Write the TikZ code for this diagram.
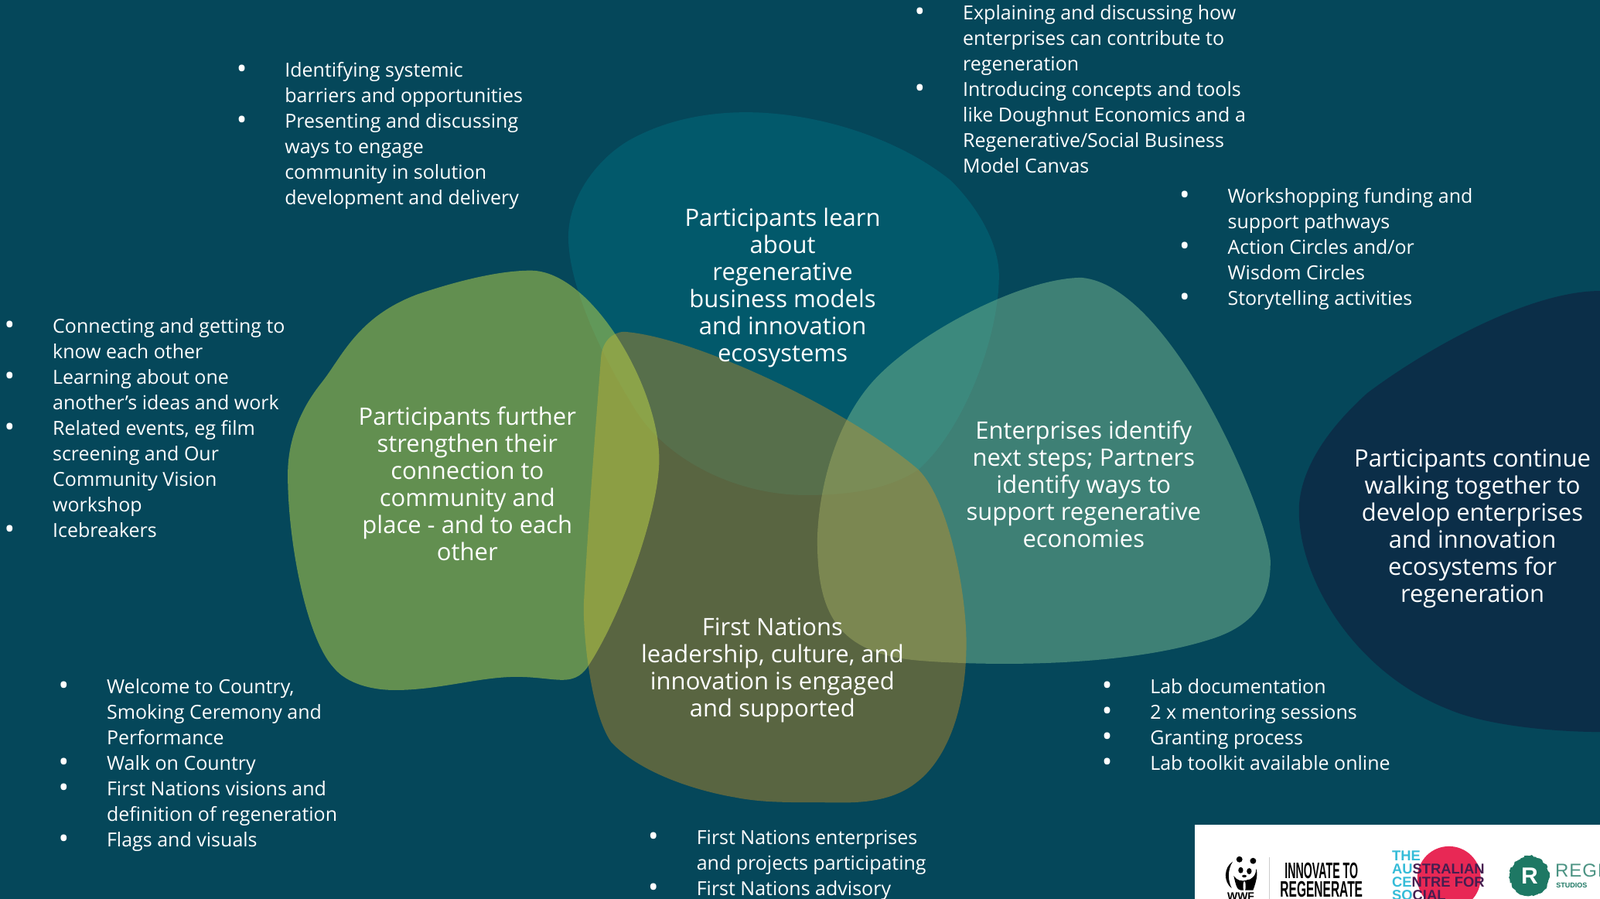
\documentclass[tikz,border=0pt]{standalone}
\usepackage{fontspec}
\setmainfont{Open Sans}
\newfontfamily\logofont{Liberation Sans}
\usetikzlibrary{decorations.pathmorphing}
\definecolor{bgc}{RGB}{5,71,90}
\definecolor{bluec}{RGB}{1,107,124}
\definecolor{greenc}{RGB}{192,215,72}
\definecolor{olivec}{RGB}{215,146,28}
\definecolor{tealc}{RGB}{119,185,144}
\definecolor{navyc}{RGB}{11,46,72}
\definecolor{logocyan}{RGB}{53,188,216}
\definecolor{logopurple}{RGB}{70,30,80}
\definecolor{logored}{RGB}{232,40,85}
\definecolor{logogreen}{RGB}{30,120,100}
\newcommand{\bul}{\llap{\raisebox{-2pt}{\fontsize{36}{33}\selectfont\textbullet}\hspace{49pt}}}
\tikzset{
  blob/.style={fill=#1,draw=none,fill opacity=.5},
  blobtext/.style={text=white,align=center,inner sep=0pt,font=\fontsize{31}{35}\selectfont},
  listtext/.style={text=white,align=left,inner sep=0pt,anchor=north west,font=\fontsize{25}{33}\selectfont},
  logotext/.style={inner sep=0pt,text=black,font=\logofont\bfseries\fontsize{29}{29}\selectfont},
  acsitext/.style={inner sep=0pt,anchor=west,font=\logofont\bfseries\fontsize{18.4}{18}\selectfont}
}
\begin{document}
\begin{tikzpicture}[x=1.3195pt,y=-1.3195pt]
\useasboundingbox (0,0) rectangle (1568,880.6);
\fill[bgc] (0,0) rectangle (1568,880.6);
% navy
\fill[navyc] (1568,285) .. controls (1500,285) and (1400,340) .. (1340,385)
  .. controls (1290,430) and (1273,470) .. (1273,500)
  .. controls (1273,570) and (1330,660) .. (1420,695)
  .. controls (1460,712) and (1530,717) .. (1568,717) -- cycle;
% blue
\fill[blob=bluec] (731,110) .. controls (800,110) and (880,135) .. (932,177)
  .. controls (960,205) and (979,240) .. (979,270)
  .. controls (979,330) and (945,420) .. (900,460)
  .. controls (870,480) and (830,485) .. (790,485)
  .. controls (720,485) and (655,450) .. (625,405)
  .. controls (590,350) and (557,280) .. (557,232)
  .. controls (557,190) and (590,150) .. (623,134)
  .. controls (660,115) and (700,110) .. (731,110) -- cycle;
% teal
\fill[blob=tealc] (1060,272) .. controls (1000,272) and (890,330) .. (850,380)
  .. controls (810,430) and (801,500) .. (801,530)
  .. controls (801,600) and (820,640) .. (900,647)
  .. controls (960,652) and (1100,655) .. (1190,625)
  .. controls (1240,608) and (1245,575) .. (1245,550)
  .. controls (1245,510) and (1150,280) .. (1060,272) -- cycle;
% olive
\fill[blob=olivec,fill opacity=.4] (612,325) .. controls (680,330) and (830,400) .. (900,460)
  .. controls (930,490) and (947,580) .. (947,630)
  .. controls (947,700) and (925,745) .. (900,765)
  .. controls (870,790) and (830,786) .. (800,786)
  .. controls (770,786) and (745,786) .. (720,781)
  .. controls (690,776) and (630,760) .. (599,727)
  .. controls (580,700) and (572,630) .. (572,594)
  .. controls (575,530) and (585,400) .. (589,350)
  .. controls (590,335) and (600,325) .. (612,325) -- cycle;
% green
\fill[blob=greenc] (520,265) .. controls (485,265) and (440,278) .. (410,288)
  .. controls (350,310) and (335,350) .. (315,375)
  .. controls (295,400) and (282,430) .. (282,465)
  .. controls (282,530) and (300,625) .. (327,654)
  .. controls (340,670) and (365,676) .. (387,676)
  .. controls (430,676) and (470,663) .. (506,663)
  .. controls (525,663) and (540,666) .. (551,666)
  .. controls (565,666) and (572,660) .. (578,650)
  .. controls (610,600) and (646,500) .. (646,450)
  .. controls (646,380) and (580,265) .. (520,265) -- cycle;
% blob texts
\node[blobtext] (tblue) at (767,282) {Participants learn\\about\\regenerative\\business models\\and innovation\\ecosystems};
\node[blobtext] (tgreen) at (458,474) {Participants further\\strengthen their\\connection to\\community and\\place - and to each\\other};
\node[blobtext] (tteal) at (1062,474.5) {Enterprises identify\\next steps; Partners\\identify ways to\\support regenerative\\economies};
\node[blobtext] (tnavy) at (1443,517.5) {Participants continue\\walking together to\\develop enterprises\\and innovation\\ecosystems for\\regeneration};
\node[blobtext] (tolive) at (757,656.5) {First Nations\\leadership, culture, and\\innovation is engaged\\and supported};
% lists
\node[listtext] (l1) at (279,61) {\bul Identifying systemic\\barriers and opportunities\\\bul Presenting and discussing\\ways to engage\\community in solution\\development and delivery};
\node[listtext] (l2) at (943.5,5) {\bul Explaining and discussing how\\enterprises can contribute to\\regeneration\\\bul Introducing concepts and tools\\like Doughnut Economics and a\\Regenerative/Social Business\\Model Canvas};
\node[listtext] (l3) at (1203,184) {\bul Workshopping funding and\\support pathways\\\bul Action Circles and/or\\Wisdom Circles\\\bul Storytelling activities};
\node[listtext] (l4) at (51.5,312) {\bul Connecting and getting to\\know each other\\\bul Learning about one\\another's ideas and work\\\bul Related events, eg film\\screening and Our\\Community Vision\\workshop\\\bul Icebreakers};
\node[listtext] (l5) at (104.5,665) {\bul Welcome to Country,\\Smoking Ceremony and\\Performance\\\bul Walk on Country\\\bul First Nations visions and\\definition of regeneration\\\bul Flags and visuals};
\node[listtext] (l6) at (1127,665) {\bul Lab documentation\\\bul 2 x mentoring sessions\\\bul Granting process\\\bul Lab toolkit available online};
\node[listtext] (l7) at (682.5,813) {\bul First Nations enterprises\\and projects participating\\\bul First Nations advisory};
% logo band
\begin{scope}
\clip (1171,808) rectangle (1568,880.6);
\fill[white] (1171,808) rectangle (1568,880.6);
% panda
\fill[black] (1214.6,841.8) circle (3);
\fill[black] (1228,843.3) circle (3);
\fill[black] (1208,844) .. controls (1199,850) and (1199,864) .. (1207,870) .. controls (1203,862) and (1203,852) .. (1208,844) -- cycle;
\fill[black] (1209,858) .. controls (1211,866) and (1212,872) .. (1216,872) -- (1228,872) .. controls (1231,864) and (1233,856) .. (1231,851) .. controls (1231,858) and (1226,862) .. (1222,862) .. controls (1216,864) and (1212,862) .. (1209,858) -- cycle;
\fill[black] (1215.9,852.4) ellipse (2.4 and 3);
\fill[black] (1224.2,853.4) ellipse (2.4 and 3);
\fill[black] (1219.4,858.2) ellipse (2.2 and 1.3);
\fill[white] (1219.5,868) ellipse (1.2 and 5);
\node[logotext,font=\logofont\bfseries\fontsize{14}{14}\selectfont] (wwf) at (1216,878) {WWF};
\draw[gray!40,line width=1.2pt] (1244,840) -- (1244,881);
\node[logotext,xscale=.49] (innov) at (1295,853) {INNOVATE TO};
\node[logotext,xscale=.535] (regen) at (1295,871) {REGENERATE};
% ACSI
\fill[logored] (1420,860) circle (31);
\node[acsitext,text=logocyan] (a1) at (1364,838) {THE};
\node[acsitext] (a2) at (1364,851) {\textcolor{logocyan}{AU}\textcolor{logopurple}{STRALIAN}};
\node[acsitext] (a3) at (1364,864) {\textcolor{logocyan}{CE}\textcolor{logopurple}{NTRE FOR}};
\node[acsitext] (a4) at (1364,877) {\textcolor{logocyan}{SO}\textcolor{logopurple}{CIAL}};
% R logo
\fill[logogreen,decorate,decoration={random steps,segment length=2.5pt,amplitude=1.5pt}] (1499,858) circle (19.5);
\node[inner sep=0pt,text=white,font=\logofont\bfseries\fontsize{30}{30}\selectfont] (rr) at (1499,858) {R};
\node[inner sep=0pt,anchor=west,text=logogreen!80,font=\logofont\fontsize{24}{24}\selectfont] (rege) at (1524,853) {R\hspace{1pt}E\hspace{1pt}G\hspace{1pt}E};
\node[inner sep=0pt,anchor=west,text=logogreen,font=\logofont\bfseries\fontsize{9}{9}\selectfont] (studios) at (1525,867) {STUDIOS};
\end{scope}
\end{tikzpicture}
\end{document}
